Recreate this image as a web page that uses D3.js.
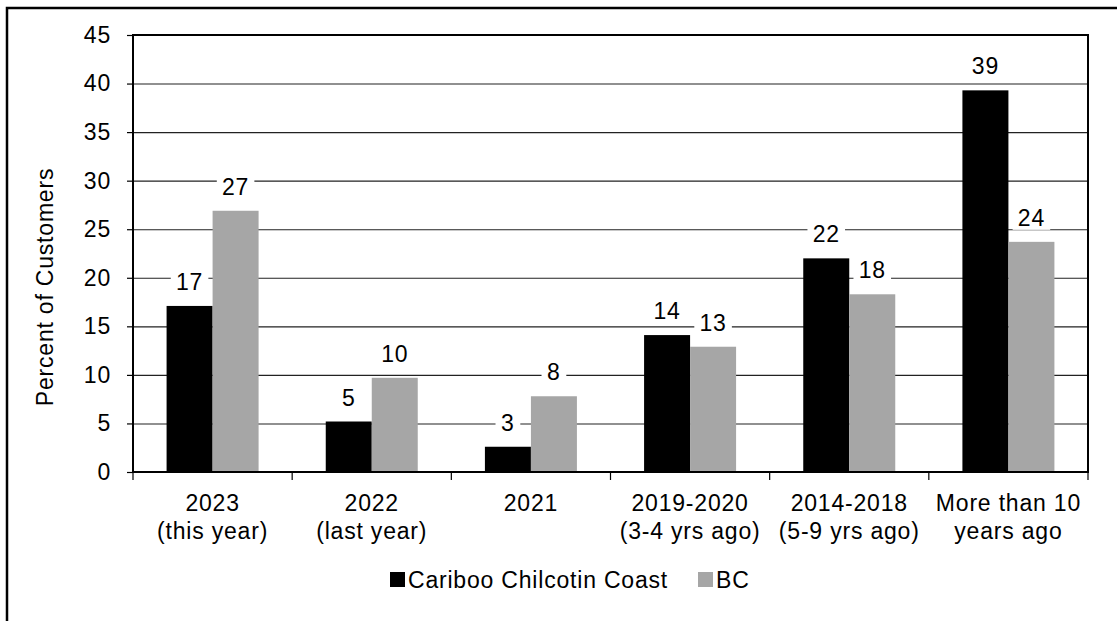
<!DOCTYPE html>
<html>
<head>
<meta charset="utf-8">
<script src="https://cdn.jsdelivr.net/npm/d3@7"></script>
<style>
body { margin: 0; background: #fff; }
text { font-family: "Liberation Sans", Arial, sans-serif; letter-spacing: 0.8px; }
</style>
</head>
<body>
<script>
// chart data
const categories = [
  ["2023", "(this year)"],
  ["2022", "(last year)"],
  ["2021"],
  ["2019-2020", "(3-4 yrs ago)"],
  ["2014-2018", "(5-9 yrs ago)"],
  ["More than 10", "years ago"]
];
const seriesNames = ["Cariboo Chilcotin Coast", "BC"];
const cariboo = [17.1, 5.2, 2.6, 14.1, 22.0, 39.3];
const bc = [26.9, 9.7, 7.8, 12.9, 18.3, 23.7];
const yTicks = [0, 5, 10, 15, 20, 25, 30, 35, 40, 45];
const colours = ["#000000", "#a6a6a6"];

let canvasW = 1117;
let canvasH = 621;
let plotL = 133, plotR = 1088, plotT = 35, plotB = 472;
let fontSize = 23;

let svg = d3.select("body").append("svg")
  .attr("width", canvasW)
  .attr("height", canvasH);

// outer frame (runs off the right and bottom edges)
svg.append("rect")
  .attr("x", 7).attr("y", 8)
  .attr("width", canvasW + 20).attr("height", canvasH + 20)
  .attr("fill", "none")
  .attr("stroke", "#000")
  .attr("stroke-width", 2.5);

let x0 = d3.scaleBand()
  .domain(d3.range(categories.length))
  .range([plotL, plotR]);

let x1 = d3.scaleBand()
  .domain([0, 1])
  .range([0, x0.bandwidth()])
  .paddingOuter(0.73);

let y = d3.scaleLinear()
  .domain([0, 45])
  .range([plotB, plotT]);

// gridlines
svg.append("g")
  .attr("transform", "translate(" + plotL + ",0)")
  .call(d3.axisLeft(y).tickValues(yTicks).tickSize(-(plotR - plotL)).tickFormat(""))
  .call(g => g.select(".domain").remove())
  .call(g => g.selectAll("line").attr("stroke", "#222").attr("stroke-width", 1.1));

// y axis with outside ticks
svg.append("g")
  .attr("transform", "translate(" + plotL + ",0)")
  .call(d3.axisLeft(y).tickValues(yTicks).tickSize(6).tickPadding(16))
  .call(g => g.select(".domain").remove())
  .call(g => g.selectAll("line").attr("stroke", "#000").attr("stroke-width", 1.2))
  .call(g => g.selectAll("text")
    .attr("font-size", fontSize + "px")
    .attr("font-family", "Liberation Sans, Arial, sans-serif")
    .attr("fill", "#000"));

let data = [cariboo, bc];

data.forEach((vals, s) => {
  svg.append("g").selectAll("rect")
    .data(vals)
    .enter()
    .append("rect")
      .attr("x", (d, i) => x0(i) + x1(s))
      .attr("y", d => y(d))
      .attr("width", x1.bandwidth())
      .attr("height", d => y(0) - y(d))
      .attr("fill", colours[s]);
});

// value labels with white boxes behind
data.forEach((vals, s) => {
  vals.forEach((d, i) => {
    let lab = d3.format(".0f")(d);
    let cx = x0(i) + x1(s) + x1.bandwidth() / 2;
    let by = y(d) - 16;
    let tw = lab.length * fontSize * 0.556;
    svg.append("rect")
      .attr("x", cx - tw / 2 - 6)
      .attr("y", by - 19)
      .attr("width", tw + 12)
      .attr("height", 23)
      .attr("fill", "#fff");
    svg.append("text")
      .attr("x", cx)
      .attr("y", by)
      .attr("text-anchor", "middle")
      .attr("font-size", fontSize + "px")
      .attr("fill", "#000")
      .text(lab);
  });
});

// plot border
svg.append("rect")
  .attr("x", plotL).attr("y", plotT)
  .attr("width", plotR - plotL).attr("height", plotB - plotT)
  .attr("fill", "none")
  .attr("stroke", "#000")
  .attr("stroke-width", 2);

// x axis ticks at category boundaries
let bounds = d3.range(categories.length + 1).map(i => plotL + i * x0.step());
svg.append("g").selectAll("line")
  .data(bounds)
  .enter()
  .append("line")
    .attr("x1", d => d).attr("x2", d => d)
    .attr("y1", plotB).attr("y2", plotB + 8)
    .attr("stroke", "#000")
    .attr("stroke-width", 1.2);

// category labels
categories.forEach((lines, i) => {
  let t = svg.append("text")
    .attr("x", x0(i) + x0.bandwidth() / 2)
    .attr("y", 511)
    .attr("text-anchor", "middle")
    .attr("font-size", fontSize + "px")
    .attr("fill", "#000");
  lines.forEach((ln, k) => {
    t.append("tspan")
      .attr("x", x0(i) + x0.bandwidth() / 2)
      .attr("y", 511 + k * 28)
      .text(ln);
  });
});

// y title
svg.append("text")
  .attr("transform", "translate(53,287) rotate(-90)")
  .attr("text-anchor", "middle")
  .attr("font-size", fontSize + "px")
  .attr("fill", "#000")
  .text("Percent of Customers");

// legend
let legendX = [390, 698];
seriesNames.forEach((name, s) => {
  svg.append("rect")
    .attr("x", legendX[s]).attr("y", 572)
    .attr("width", 15).attr("height", 15)
    .attr("fill", colours[s]);
  svg.append("text")
    .attr("x", legendX[s] + 18)
    .attr("y", 588)
    .attr("font-size", fontSize + "px")
    .attr("fill", "#000")
    .text(name);
});
</script>
</body>
</html>
